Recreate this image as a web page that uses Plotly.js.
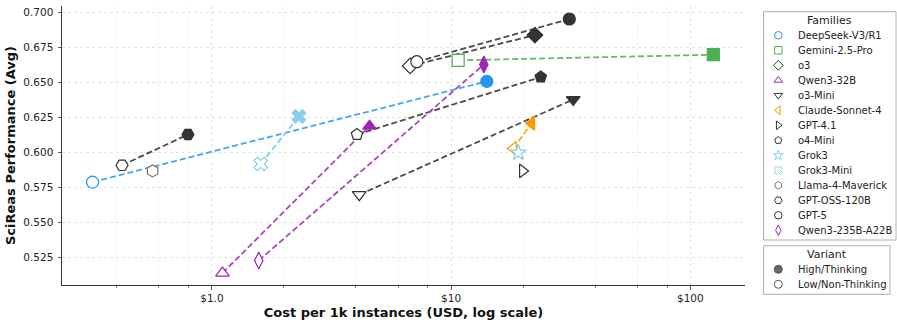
<!DOCTYPE html>
<html>
<head>
<meta charset="utf-8">
<script src="https://cdn.plot.ly/plotly-3.0.1.min.js"></script>
<style>
  body { margin: 0; background: #fff; }
  #chart { width: 897px; height: 326px; }
</style>
</head>
<body>
<div id="chart"></div>
<script>
// values
const families = ['DeepSeek-V3/R1', 'Gemini-2.5-Pro', 'o3', 'Qwen3-32B', 'o3-Mini',
  'Claude-Sonnet-4', 'GPT-4.1', 'o4-Mini', 'Grok3', 'Grok3-Mini', 'Llama-4-Maverick',
  'GPT-OSS-120B', 'GPT-5', 'Qwen3-235B-A22B'];
const lowCost   = [0.317, 10.7, 6.74, 1.107, 4.13, 18.2, 19.9, 4.04, 19.1, 1.60, 0.565, 0.421, 7.19, 1.57];
const lowScore  = [0.579, 0.666, 0.662, 0.514, 0.570, 0.603, 0.587, 0.613, 0.600, 0.592, 0.587, 0.591, 0.665, 0.523];
const highCost  = [14.1, 124.8, 22.4, 4.56, 32.4, 21.7, null, 23.7, null, 2.31, null, 0.794, 31.2, 13.7];
const highScore = [0.651, 0.670, 0.684, 0.619, 0.638, 0.621, null, 0.654, null, 0.626, null, 0.613, 0.6955, 0.663];

const yTicks = [0.525, 0.550, 0.575, 0.600, 0.625, 0.650, 0.675, 0.700];
const xTicks = [1, 10, 100];
const xTickText = ['$1.0', '$10', '$100'];
const xMinor = [0.4, 0.6, 0.8, 2, 4, 6, 8, 20, 40, 60, 80];

const variants = ['High/Thinking', 'Low/Non-Thinking'];

// styling per family
const DARK = '#333333';
const colors = ['#2196F3', '#4CAF50', DARK, '#9C27B0', DARK, '#FF9800', DARK, DARK,
  '#87CEEB', '#87CEEB', '#8D6E63', DARK, DARK, '#9C27B0'];
const lineColors = ['#42A5F5', '#66BB6A', '#4a4a4a', '#AB47BC', '#4a4a4a', '#FFA726', '#4a4a4a',
  '#4a4a4a', '#87CEEB', '#87CEEB', '#8D6E63', '#4a4a4a', '#4a4a4a', '#AB47BC'];
const symbols = ['circle', 'square', 'diamond', 'triangle-up', 'triangle-down', 'triangle-left',
  'triangle-right', 'pentagon', 'star', 'x', 'hexagon', 'hexagon2', 'circle', 'diamond-tall'];

const FONT = 'DejaVu Sans, sans-serif';
const MSIZE = 12;

let traces = [];

// dashed connectors, low -> high
families.forEach((f, i) => {
  if (highCost[i] == null) return;
  traces.push({
    x: [lowCost[i], highCost[i]], y: [lowScore[i], highScore[i]],
    mode: 'lines', type: 'scatter', showlegend: false, hoverinfo: 'skip',
    line: { color: lineColors[i], width: 1.8, dash: '6px,3px' }
  });
});

// markers: open = low, filled = high
families.forEach((f, i) => {
  traces.push({
    x: [lowCost[i]], y: [lowScore[i]], name: f + ' (low)',
    mode: 'markers', type: 'scatter', showlegend: false,
    marker: { symbol: symbols[i], size: MSIZE, color: '#ffffff',
      line: { color: colors[i], width: 1.2 } }
  });
  if (highCost[i] != null) {
    traces.push({
      x: [highCost[i]], y: [highScore[i]], name: f + ' (high)',
      mode: 'markers', type: 'scatter', showlegend: false,
      marker: { symbol: symbols[i], size: MSIZE, color: colors[i],
        line: { color: colors[i], width: 1.2 } }
    });
  }
});

// hand-made legends on a hidden pixel-unit axis pair (x2/y2) in the right margin
const LEG_X0 = 763.5, LEG_X1 = 896;
const FAM_TOP = 11.7, FAM_BOT = 240, FAM_ROW0 = 35.3, ROW = 15;
const VAR_TOP = 245.7, VAR_BOT = 294.3, VAR_ROW0 = 269.3, VAR_X1 = 890;
const MARK_X = 778.3, TEXT_X = 796;

traces.push({
  x: families.map(() => MARK_X), y: families.map((f, i) => FAM_ROW0 + i * ROW),
  xaxis: 'x2', yaxis: 'y2', mode: 'markers', type: 'scatter', showlegend: false, hoverinfo: 'skip',
  marker: { symbol: symbols, size: 7.5, color: '#ffffff', line: { color: colors, width: 1 } }
});
traces.push({
  x: variants.map(() => MARK_X), y: variants.map((v, i) => VAR_ROW0 + i * ROW),
  xaxis: 'x2', yaxis: 'y2', mode: 'markers', type: 'scatter', showlegend: false, hoverinfo: 'skip',
  marker: { symbol: 'circle', size: 8, color: ['#666666', '#ffffff'], line: { color: '#555555', width: 1 } }
});

let annotations = [];
families.forEach((f, i) => annotations.push({
  xref: 'x2', yref: 'y2', x: TEXT_X, y: FAM_ROW0 + i * ROW, text: f, showarrow: false,
  xanchor: 'left', yanchor: 'middle', font: { family: FONT, size: 10, color: '#222' }
}));
variants.forEach((v, i) => annotations.push({
  xref: 'x2', yref: 'y2', x: TEXT_X, y: VAR_ROW0 + i * ROW, text: v, showarrow: false,
  xanchor: 'left', yanchor: 'middle', font: { family: FONT, size: 10, color: '#222' }
}));
annotations.push({
  xref: 'x2', yref: 'y2', x: (LEG_X0 + LEG_X1) / 2, y: 20.7, text: 'Families', showarrow: false,
  xanchor: 'center', yanchor: 'middle', font: { family: FONT, size: 11, color: '#222' }
});
annotations.push({
  xref: 'x2', yref: 'y2', x: (LEG_X0 + VAR_X1) / 2, y: 254, text: 'Variant', showarrow: false,
  xanchor: 'center', yanchor: 'middle', font: { family: FONT, size: 11, color: '#222' }
});

const shapes = [
  { type: 'rect', xref: 'x2', yref: 'y2', x0: LEG_X0, x1: LEG_X1, y0: FAM_TOP, y1: FAM_BOT,
    line: { color: '#b0b0b0', width: 1 }, fillcolor: 'rgba(255,255,255,0.8)', layer: 'below' },
  { type: 'rect', xref: 'x2', yref: 'y2', x0: LEG_X0, x1: VAR_X1, y0: VAR_TOP, y1: VAR_BOT,
    line: { color: '#b0b0b0', width: 1 }, fillcolor: 'rgba(255,255,255,0.8)', layer: 'below' }
];

const W = 897, H = 326, ML = 62;
const plotW = W - ML;
const layout = {
  width: W, height: H,
  margin: { l: ML, r: 0, t: 0, b: 0 },
  paper_bgcolor: '#fff', plot_bgcolor: '#fff',
  font: { family: FONT, size: 10.5, color: '#222' },
  xaxis: {
    type: 'log', domain: [0, (745 - ML) / plotW],
    range: [-0.6267, 2.2286],
    tickmode: 'array', tickvals: xTicks, ticktext: xTickText,
    ticks: 'outside', ticklen: 3.5, tickwidth: 0.8, tickcolor: '#333',
    showline: true, linecolor: '#333', linewidth: 1, mirror: false,
    showgrid: true, gridcolor: '#dcdcdc', griddash: 'dot', gridwidth: 0.8,
    zeroline: false, anchor: 'y',
    minor: { tickmode: 'array', tickvals: xMinor, ticks: 'outside', ticklen: 2, tickwidth: 0.6,
      tickcolor: '#333', showgrid: true, gridcolor: '#e6e6e6', griddash: 'dot', gridwidth: 0.6 },
    title: { text: 'Cost per 1k instances (USD, log scale)', standoff: 4,
      font: { family: FONT, size: 13, color: '#111', weight: 'bold' } }
  },
  yaxis: {
    domain: [(H - 285) / H, (H - 6) / H],
    range: [0.5055, 0.7048],
    tickmode: 'array', tickvals: yTicks, tickformat: '.3f',
    ticks: 'outside', ticklen: 3.5, tickwidth: 0.8, tickcolor: '#333',
    ticklabelstandoff: 2,
    showline: true, linecolor: '#333', linewidth: 1,
    showgrid: true, gridcolor: '#dcdcdc', griddash: 'dot', gridwidth: 0.8,
    zeroline: false, anchor: 'x',
    title: { text: 'SciReas Performance (Avg)', standoff: 4,
      font: { family: FONT, size: 13, color: '#111', weight: 'bold' } }
  },
  xaxis2: { domain: [0.82, 1], range: [ML + 0.82 * plotW, W], visible: false, fixedrange: true, anchor: 'y2' },
  yaxis2: { domain: [0, 1], range: [H, 0], visible: false, fixedrange: true, anchor: 'x2' },
  showlegend: false,
  annotations: annotations,
  shapes: shapes
};

Plotly.newPlot('chart', traces, layout, { displayModeBar: false, staticPlot: true });
</script>
</body>
</html>
